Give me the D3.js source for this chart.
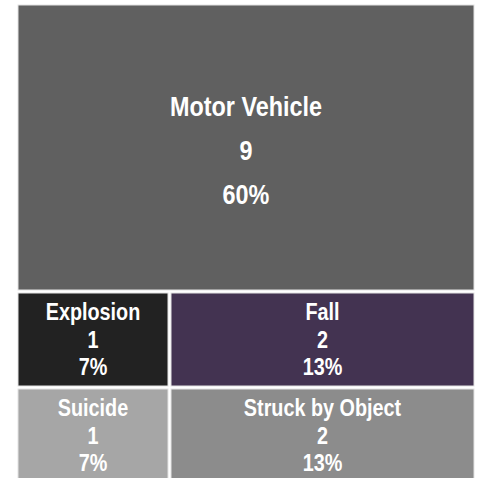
<!DOCTYPE html>
<meta charset="utf-8">
<style>
    body {
        margin: 0;
        background: #fff;
        font-family: "Liberation Sans", Arial, sans-serif;
    }

    .label {
        fill: #fff;
        font-weight: bold;
    }
</style>
<svg width="477" height="478"></svg>
<script src="https://d3js.org/d3.v7.min.js"></script>
<script>
    // treemap data
    var categories = ["Motor Vehicle", "Explosion", "Fall", "Suicide", "Struck by Object"];
    var values = [9, 1, 2, 1, 2];
    var colors = ["#606060", "#222222", "#433351", "#a6a6a6", "#8c8c8c"];
    // which row of the layout each category sits in
    var rows = [0, 1, 1, 2, 2];

    var svg = d3.select("svg");
    var total = d3.sum(values);
    var offX = 18, offY = 5, w = 456, h = 477;

    var data = {
        name: "root",
        children: d3.range(d3.max(rows) + 1).map(function (r) {
            return {
                name: "row" + r,
                children: categories.map(function (c, i) {
                    return { name: c, value: values[i], color: colors[i], row: rows[i] };
                }).filter(function (d) { return d.row === r; })
            };
        })
    };

    var root = d3.hierarchy(data).sum(function (d) { return d.value || 0; });

    d3.treemap()
        .tile(function (node, x0, y0, x1, y1) {
            // rows stacked top to bottom, cells side by side inside a row
            (node.depth ? d3.treemapDice : d3.treemapSlice)(node, x0, y0, x1, y1);
        })
        .size([w, h])
        .paddingInner(3)
        .round(false)(root);

    var cell = svg.append("g")
        .attr("transform", "translate(" + offX + "," + offY + ")")
        .selectAll("g")
        .data(root.leaves())
        .enter().append("g");

    cell.append("rect")
        .attr("x", function (d) { return d.x0; })
        .attr("y", function (d) { return d.y0; })
        .attr("width", function (d) { return d.x1 - d.x0; })
        .attr("height", function (d) { return d.y1 - d.y0; })
        .style("fill", function (d) { return d.data.color; })
        .style("stroke", "#e3e3e3")
        .style("stroke-width", 1);

    cell.each(function (d) {
        var big = (d.y1 - d.y0) > 200;
        var size = big ? 26 : 22;
        var lh = big ? 44 : 27.5;
        var cx = (d.x0 + d.x1) / 2,
            cy = (d.y0 + d.y1) / 2 + (big ? 3 : 0);
        var lines = [d.data.name, d.data.value, Math.round(d.data.value / total * 100) + "%"];

        d3.select(this).selectAll("text")
            .data(lines)
            .enter().append("text")
            .attr("class", "label")
            .attr("text-anchor", "middle")
            .attr("dominant-baseline", "central")
            .style("font-size", size + "px")
            .attr("transform", function (t, i) {
                return "translate(" + cx + "," + (cy + (i - 1) * lh) + ") scale(0.9,1.07)";
            })
            .text(function (t) { return t; });
    });
</script>
